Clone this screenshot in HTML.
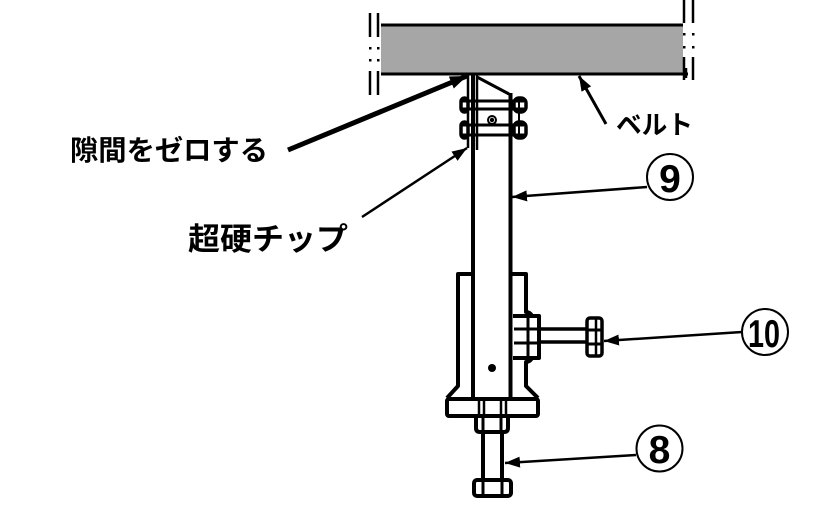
<!DOCTYPE html>
<html><head><meta charset="utf-8">
<style>
html,body{margin:0;padding:0;background:#fff;}
svg{display:block;}
.jp{font-family:"Liberation Sans","Noto Sans CJK JP",sans-serif;font-weight:bold;fill:#000;}
.num{font-family:"Liberation Sans",sans-serif;font-weight:bold;fill:#000;}
</style></head>
<body>
<svg width="819" height="507" viewBox="0 0 819 507" xmlns="http://www.w3.org/2000/svg">
<defs>
<marker id="ah" markerUnits="userSpaceOnUse" markerWidth="16" markerHeight="12" refX="15" refY="6" orient="auto">
<path d="M0,0.5 L15,6 L0,11.5 z" fill="#000"/>
</marker>
<marker id="ahb" markerUnits="userSpaceOnUse" markerWidth="18" markerHeight="14" refX="17" refY="7" orient="auto">
<path d="M0,0.5 L17,7 L0,13.5 z" fill="#000"/>
</marker>
</defs>

<!-- belt -->
<rect x="381" y="25" width="302" height="49" fill="#a6a6a6"/>
<line x1="381" y1="25" x2="683" y2="25" stroke="#000" stroke-width="3"/>
<line x1="381" y1="74" x2="688" y2="74" stroke="#000" stroke-width="3"/>
<line x1="686" y1="68" x2="686" y2="78" stroke="#000" stroke-width="2.5"/>

<!-- left break marks -->
<g stroke="#000" stroke-width="2.5">
<line x1="370" y1="13" x2="370" y2="37"/><line x1="378" y1="13" x2="378" y2="37"/>
<line x1="370" y1="71" x2="370" y2="95"/><line x1="378" y1="71" x2="378" y2="95"/>
</g>
<g fill="#000">
<rect x="369" y="47" width="2.5" height="2.5"/><rect x="377" y="47" width="2.5" height="2.5"/>
<rect x="369" y="59" width="2.5" height="2.5"/><rect x="377" y="59" width="2.5" height="2.5"/>
</g>
<!-- right break marks -->
<g stroke="#000" stroke-width="2.5">
<line x1="684" y1="0" x2="684" y2="23"/><line x1="693" y1="0" x2="693" y2="23"/>
<line x1="684" y1="57" x2="684" y2="80"/><line x1="693" y1="57" x2="693" y2="80"/>
</g>
<g fill="#000">
<rect x="683" y="33" width="2.5" height="2.5"/><rect x="692" y="33" width="2.5" height="2.5"/>
<rect x="683" y="46" width="2.5" height="2.5"/><rect x="692" y="46" width="2.5" height="2.5"/>
</g>

<!-- column / tube -->
<g stroke="#000" fill="none" stroke-linejoin="round">
<line x1="473" y1="75" x2="473" y2="399" stroke-width="4"/>
<line x1="510.5" y1="93" x2="510.5" y2="399" stroke-width="4"/>
<line x1="468" y1="75" x2="468" y2="148" stroke-width="2.5"/>
<line x1="477" y1="75" x2="477" y2="150" stroke-width="2.5"/>
<path d="M477,77 L509,94" stroke-width="3"/>
<!-- bolt rows -->
<line x1="462" y1="101" x2="524" y2="101" stroke-width="3"/>
<line x1="462" y1="109" x2="524" y2="109" stroke-width="3"/>
<line x1="462" y1="125" x2="524" y2="125" stroke-width="3"/>
<line x1="462" y1="135" x2="524" y2="135" stroke-width="3"/>
<rect x="461" y="98" width="7" height="14" rx="3.5" stroke-width="3.5"/>
<rect x="461" y="122" width="7" height="16" rx="3.5" stroke-width="3.5"/>
<rect x="514" y="98" width="12" height="14" rx="5" stroke-width="3.5"/>
<rect x="514" y="122" width="12" height="16" rx="5" stroke-width="3.5"/>
<line x1="519" y1="98" x2="519" y2="138" stroke-width="2"/>
<circle cx="492" cy="120" r="4" stroke-width="2"/>
</g>
<circle cx="492" cy="120" r="2.2" fill="#000"/>

<!-- housing -->
<g stroke="#000" fill="none" stroke-width="4" stroke-linejoin="round">
<path d="M473,274 L458,274 L458,386 L447,398"/>
<path d="M511,274 L526,274 L526,312 Q530,312 532,316 L539,316 L539,358 L532,358 Q530,362 526,362 L526,386 L538,398"/>
<!-- boss nut -->
<line x1="513" y1="316" x2="539" y2="316"/>
<line x1="513" y1="358" x2="539" y2="358"/>
<line x1="514" y1="329" x2="539" y2="329" stroke-width="3"/>
<line x1="514" y1="343" x2="539" y2="343" stroke-width="3"/>
<line x1="528" y1="318" x2="528" y2="356" stroke-width="3"/>
<!-- side bolt shaft -->
<line x1="539" y1="329" x2="588" y2="329" stroke-width="3.5"/>
<line x1="539" y1="342" x2="588" y2="342" stroke-width="3.5"/>
<!-- end nut -->
<rect x="587" y="318" width="15" height="38" rx="3" stroke-width="3.5"/>
<line x1="587" y1="330" x2="602" y2="330" stroke-width="3"/>
<line x1="587" y1="344" x2="602" y2="344" stroke-width="3"/>
<line x1="596" y1="318" x2="596" y2="356" stroke-width="2.5"/>
<!-- base plate -->
<rect x="447" y="399" width="91" height="17" rx="2"/>
<line x1="479" y1="401" x2="479" y2="414" stroke-width="2.5"/>
<line x1="484" y1="401" x2="484" y2="414" stroke-width="2.5"/>
<line x1="501" y1="401" x2="501" y2="414" stroke-width="2.5"/>
<line x1="506" y1="401" x2="506" y2="414" stroke-width="2.5"/>
<!-- nut below plate -->
<path d="M476,416 L476,428 Q476,432 480,432 L504,432 Q508,432 508,428 L508,416"/>
<line x1="483" y1="417" x2="483" y2="431" stroke-width="3"/>
<line x1="501" y1="417" x2="501" y2="431" stroke-width="3"/>
<!-- bolt shaft -->
<line x1="483" y1="432" x2="483" y2="480"/>
<line x1="502" y1="432" x2="502" y2="480"/>
<!-- bolt head -->
<rect x="474" y="480" width="37" height="16" rx="3"/>
<line x1="483" y1="482" x2="483" y2="494" stroke-width="3"/>
<line x1="502" y1="482" x2="502" y2="494" stroke-width="3"/>
</g>
<circle cx="492" cy="368" r="4" fill="#000"/>

<!-- arrows -->
<line x1="288" y1="150" x2="467" y2="76" stroke="#000" stroke-width="5" marker-end="url(#ahb)"/>
<line x1="362" y1="217" x2="467" y2="148" stroke="#000" stroke-width="2.5" marker-end="url(#ah)"/>
<line x1="606" y1="124" x2="579" y2="76" stroke="#000" stroke-width="3" marker-end="url(#ah)"/>
<line x1="647" y1="187" x2="512" y2="197" stroke="#000" stroke-width="2.5" marker-end="url(#ah)"/>
<line x1="742" y1="332" x2="604" y2="341" stroke="#000" stroke-width="2.5" marker-end="url(#ah)"/>
<line x1="636" y1="455" x2="505" y2="463" stroke="#000" stroke-width="2.5" marker-end="url(#ah)"/>

<!-- labels -->
<text class="jp" x="70" y="160" font-size="28" textLength="198" lengthAdjust="spacingAndGlyphs">隙間をゼロする</text>
<text class="jp" x="188" y="250" font-size="31" textLength="160" lengthAdjust="spacingAndGlyphs">超硬チップ</text>
<text class="jp" x="616" y="134" font-size="26" textLength="77" lengthAdjust="spacingAndGlyphs">ベルト</text>

<!-- circled numbers -->
<g fill="none" stroke="#000" stroke-width="2">
<circle cx="670" cy="177" r="23"/>
<circle cx="765" cy="332" r="23"/>
<circle cx="659.5" cy="448.5" r="23"/>
</g>
<text class="num" x="670" y="192" font-size="39" text-anchor="middle">9</text>
<text class="num" x="748" y="347" font-size="39" textLength="32" lengthAdjust="spacingAndGlyphs">10</text>
<text class="num" x="659.5" y="463" font-size="39" text-anchor="middle">8</text>
</svg>
</body></html>
